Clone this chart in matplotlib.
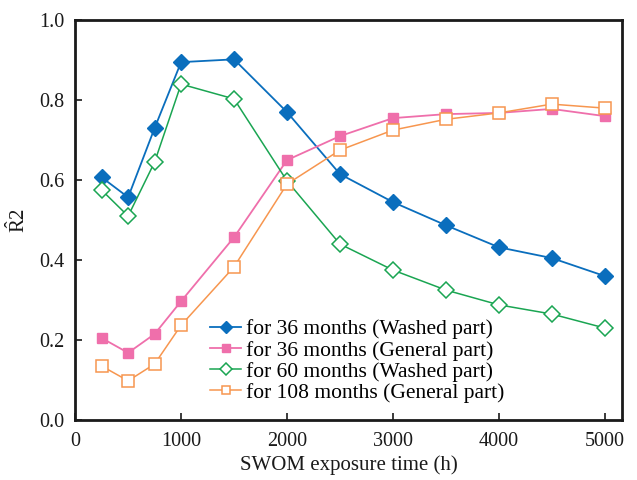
import matplotlib
matplotlib.use('Agg')
import matplotlib.pyplot as plt

plt.rcParams['font.family'] = ['Liberation Serif', 'DejaVu Serif']
plt.rcParams['mathtext.fontset'] = 'custom'
plt.rcParams['mathtext.rm'] = 'Liberation Serif'

# exposure times (h)
hours = [250, 500, 750, 1000, 1500, 2000, 2500, 3000, 3500, 4000, 4500, 5000]

washed_36 = [0.607, 0.557, 0.730, 0.895, 0.902, 0.770, 0.615, 0.545, 0.487, 0.432, 0.405, 0.360]
general_36 = [0.205, 0.168, 0.215, 0.297, 0.457, 0.650, 0.710, 0.755, 0.765, 0.768, 0.778, 0.760]
washed_60 = [0.575, 0.510, 0.645, 0.840, 0.803, 0.598, 0.440, 0.375, 0.325, 0.288, 0.265, 0.230]
general_108 = [0.135, 0.098, 0.140, 0.237, 0.383, 0.590, 0.675, 0.725, 0.752, 0.768, 0.790, 0.780]

labels = ['for 36 months (Washed part)',
          'for 36 months (General part)',
          'for 60 months (Washed part)',
          'for 108 months (General part)']

fig = plt.figure(figsize=(6.37, 4.8), dpi=100)
ax = fig.add_axes([0.118, 0.125, 0.858, 0.833])

ax.plot(hours, washed_36, color='#0a6ebd', marker='D', markersize=8, lw=1.3,
        label=labels[0])
ax.plot(hours, general_36, color='#ef6fab', marker='s', markersize=7.5, lw=1.3,
        label=labels[1])
ax.plot(hours, washed_60, color='#1aa552', marker='D', markersize=8, lw=1.1,
        markerfacecolor='white', markeredgewidth=1.1, label=labels[2])
ax.plot(hours, general_108, color='#f7964f', marker='s', markersize=8, lw=1.1,
        markerfacecolor='white', markeredgewidth=1.1, label=labels[3])

ax.set_xlim(0, 5160)
ax.set_ylim(0, 1.0)
ax.set_xticks([0, 1000, 2000, 3000, 4000, 5000])
ax.set_yticks([0.0, 0.2, 0.4, 0.6, 0.8, 1.0])
ax.set_yticklabels(['0.0', '0.2', '0.4', '0.6', '0.8', '1.0'])
ax.tick_params(direction='in', length=5, width=1.2, labelsize=14.5, colors='#1a1a1a')
ax.tick_params(axis='x', pad=9)
ax.tick_params(axis='y', pad=8)
for s in ax.spines.values():
    s.set_linewidth(2)
    s.set_color('#1a1a1a')

ax.set_xlabel('SWOM exposure time (h)', fontsize=15, color='#1a1a1a', labelpad=3)
ax.set_ylabel(r'$\hat{\mathrm{R}}$2', fontsize=15, color='#1a1a1a', labelpad=6)

ax.legend(loc='lower left', bbox_to_anchor=(0.22, 0.005), frameon=False, fontsize=15.5,
          handlelength=1.4, handletextpad=0.25, labelspacing=0.05, borderaxespad=0.3,
          markerscale=0.75)

fig.savefig('out.png', dpi=100)
